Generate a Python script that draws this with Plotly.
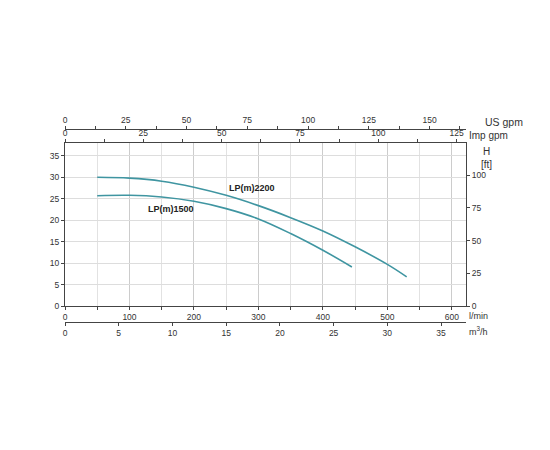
import plotly.graph_objects as go

# pump curves, flow in l/min, head in m
flow_2200 = [50, 100, 150, 200, 250, 300, 350, 400, 450, 500, 530]
head_2200 = [30.0, 29.8, 29.1, 27.7, 25.8, 23.4, 20.6, 17.5, 13.8, 9.7, 6.8]
flow_1500 = [50, 100, 150, 200, 250, 300, 350, 400, 445]
head_1500 = [25.7, 25.8, 25.4, 24.4, 22.7, 20.3, 16.9, 13.0, 9.1]

LINE = "#3f95a1"
AXIS = "#444444"
TEXT = "#333333"
FONT = "Liberation Sans, Arial, sans-serif"

fig = go.Figure()

for flow, head in [(flow_2200, head_2200), (flow_1500, head_1500)]:
    fig.add_trace(
        go.Scatter(
            x=flow, y=head, mode="lines",
            line=dict(color=LINE, width=1.6, shape="spline", smoothing=1),
            hoverinfo="skip", showlegend=False,
        )
    )

# dummy traces so the extra axes get drawn
for xa, ya in [("x2", "y"), ("x3", "y"), ("x4", "y"), ("x", "y2")]:
    fig.add_trace(
        go.Scatter(x=[0], y=[0], xaxis=xa, yaxis=ya, mode="markers",
                   marker=dict(opacity=0), hoverinfo="skip", showlegend=False)
    )

tick_font = dict(family=FONT, size=8.5, color=TEXT)
common = dict(showline=True, linecolor=AXIS, linewidth=1, ticks="outside",
              ticklen=3, tickcolor=AXIS, tickfont=tick_font, zeroline=False)

fig.update_layout(
    width=550, height=450,
    margin=dict(l=57, r=92, t=121, b=136),
    paper_bgcolor="white", plot_bgcolor="white",
    font=dict(family=FONT, color=TEXT),
    xaxis=dict(range=[0, 622], dtick=100, showgrid=True, gridcolor="#cccccc",
               minor=dict(dtick=50, showgrid=True, gridcolor="#e2e2e2",
                          ticks="outside", ticklen=3, tickcolor=AXIS),
               anchor="y", side="bottom", **common),
    xaxis2=dict(range=[0, 622 / 16.667], dtick=5, showgrid=False,
                overlaying="x", anchor="free", position=0, side="bottom", **common),
    xaxis3=dict(range=[0, 128], dtick=25, showgrid=False,
                minor=dict(dtick=12.5, ticks="outside", ticklen=3, tickcolor=AXIS),
                overlaying="x", anchor="y", side="top", **common),
    xaxis4=dict(range=[0, 165], dtick=25, showgrid=False,
                minor=dict(dtick=12.5, ticks="outside", ticklen=3, tickcolor=AXIS),
                overlaying="x", anchor="free", position=1, side="top", **common),
    yaxis=dict(range=[0, 38], dtick=5, showgrid=True, gridcolor="#dddddd",
               domain=[0.0829, 0.9275], anchor="x", **common),
    yaxis2=dict(range=[0, 38 * 3.281], dtick=25, showgrid=False,
                overlaying="y", side="right", anchor="x", **common),
)

units = [
    ("US gpm", 1.042, 1.036, 10.5),
    ("Imp gpm", 1.003, 0.964, 10),
    ("l/min", 1.003, 0.031, 9),
    ("m<sup>3</sup>/h", 1.003, -0.047, 9),
]
for text, x, y, size in units:
    fig.add_annotation(text=text, x=x, y=y, xref="paper", yref="paper",
                       xanchor="left", yanchor="middle", showarrow=False,
                       font=dict(family=FONT, size=size, color=TEXT))

fig.add_annotation(text="H<br>[ft]", x=1.052, y=0.85, xref="paper", yref="paper",
                   xanchor="center", yanchor="middle", showarrow=False,
                   font=dict(family=FONT, size=10, color=TEXT))

fig.add_annotation(text="<b>LP(m)2200</b>", x=290, y=27.5, showarrow=False,
                   font=dict(family=FONT, size=9, color="#222222"))
fig.add_annotation(text="<b>LP(m)1500</b>", x=164, y=22.6, showarrow=False,
                   font=dict(family=FONT, size=9, color="#222222"))

fig.write_html("out.html")
